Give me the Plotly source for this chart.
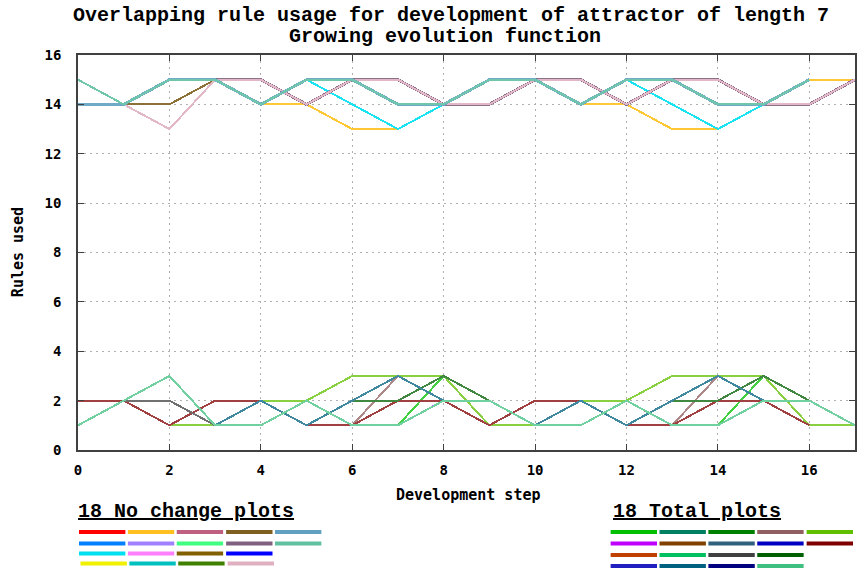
import plotly.graph_objects as go

# ── Data ─────────────────────────────────────────────────────────────────────

steps = list(range(18))
tick_steps = list(range(0, 17, 2))
tick_rules = list(range(0, 17, 2))

# distinct rule-count runs ("No change")
nc_p = [15, 14, 15, 15, 14, 15, 15, 14, 14, 15, 15, 14, 15, 15, 14, 14, 15, None]
nc_p0 = [14, 14, 15, 15, 14, 15, 15, 14, 14, 15, 15, 14, 15, 15, 14, 14, 15, None]
nc_q = [14, 14, 14, 15, 15, 14, 15, 15, 14, 14, 15, 15, 14, 15, 15, 14, 14, 15]
nc_m = [14, 14, 15, 15, 15, 14, 15, 15, 14, 14, 15, 15, 14, 15, 15, 14, 14, 15]
nc_sal = [14, 14, 13, 15, 15, 14, 15, 15, 14, 14, 15, 15, 14, 15, 15, 14, 14, 15]
nc_y = [14, 14, 14, 15, 14, 14, 13, 13, 14, 15, 15, 14, 14, 13, 13, 14, 15, 15]
nc_cy = [14, 14, 15, 15, 14, 15, 14, 13, 14, 15, 15, 14, 15, 14, 13, 14, 14, 15]

nochange_colors = ["#ff0000", "#ffc020", "#c06080", "#806020", "#60a0c0",
                   "#0080ff", "#a080ff", "#40ff80", "#806080", "#60c0a0",
                   "#00e0f0", "#ff80ff", "#806000", "#0000ff",
                   "#f0f000", "#00c0c0", "#408000", "#e0b0c0"]
nochange_runs = [nc_sal, nc_y, nc_q, nc_q, nc_p0, nc_p, nc_q, nc_p, nc_m, nc_p,
                 nc_cy, nc_q, nc_y, nc_p, nc_y, nc_cy, nc_p0, nc_sal]
nochange_draw = [1, 6, 7, 8, 12, 13, 14, 15, 16, 17, 3, 2, 4, 11, 9, 18, 5, 10]

# lower band ("Total")
tot_s1 = [2, 2, 2, 1, 1, 2, 1, 1, 3, 2, 1, 1, 2, 1, 1, 3, 2, 1]
tot_g = [2, 2, 1, 1, 1, 2, 1, 1, 2, 2, 1, 1, 2, 1, 1, 2, 2, 1]
tot_b = [1, 2, 1, 1, 2, 2, 3, 3, 3, 2, 1, 2, 2, 3, 3, 3, 2, 1]
tot_b5 = [1, 2, 1, 1, 2, 2, 3, 3, 3, 1, 1, 2, 2, 3, 3, 3, 1, 1]
tot_c = [2, 2, 2, 1, 1, 2, 1, 3, 3, 1, 1, 1, 2, 1, 3, 3, 1, 1]
tot_v = [2, 2, 2, 1, 1, 2, 1, 1, 2, 1, 2, 2, 1, 1, 2, 2, 1, None]
tot_a0 = [1, 2, 1, 2, 2, 1, 1, 2, 2, 1, 2, 2, 1, 1, 2, 2, 1, None]
tot_t = [1, 2, 3, 1, 2, 1, 2, 3, 2, 2, 1, 2, 1, 2, 3, 2, 2, 1]
tot_l = [1, 2, 3, 1, 1, 2, 1, 1, 2, 2, 1, 1, 2, 1, 1, 2, 2, 1]
tot_a = [2, 2, 1, 2, 2, 1, 1, 2, 2, 1, 2, 2, 1, 1, 2, 2, 1, None]
tot_k = [1, 2, 2, 1, 1, 2, 1, 1, 2, 2, 1, 1, 2, 1, 1, 2, 2, 1]
tot_e = [1, 2, 3, 1, 2, 1, 2, 2, 3, 2, 1, 2, 1, 2, 2, 3, 2, 1]

total_colors = ["#00c000", "#008060", "#008000", "#906060", "#60c000",
                "#c000ff", "#804000", "#306080", "#0000c0", "#800000",
                "#c04000", "#00c060", "#404040", "#006000",
                "#2020c0", "#006080", "#000080", "#40c080"]
total_runs = [tot_s1, tot_g, tot_b, tot_c, tot_b5, tot_v, tot_a0, tot_t, tot_l,
              tot_a, tot_k, tot_k, tot_k, tot_e, tot_l, tot_t, tot_l, tot_l]

# ── Layout helpers (pixels -> paper) ─────────────────────────────────────────

W, H = 868, 570
L, R, T, B = 78, 857, 55, 450


def px(x):
    return (x - L) / (R - L)


def py(y):
    return (B - y) / (B - T)


def tint(c, a):
    # thin lines in the original read lighter than the key colours
    rgb = [int(c[i:i + 2], 16) for i in (1, 3, 5)]
    return "rgb(%d,%d,%d)" % tuple(round(a * v + (1 - a) * 255) for v in rgb)


def slot(i):
    # legend grid: rows of 5, 5, 4, 4
    for row, start in enumerate([0, 5, 10, 14]):
        size = 5 if row < 2 else 4
        if i < start + size:
            return row, i - start


# ── Figure ───────────────────────────────────────────────────────────────────

fig = go.Figure()

for run, col in zip(total_runs, total_colors):
    fig.add_trace(go.Scatter(x=steps, y=run, mode="lines",
                             line=dict(color=tint(col, 0.75), width=2),
                             showlegend=False, hoverinfo="skip"))

wide = {9: 3, 5: 3}  # mauve under pink, steelblue under aquamarine
for k in nochange_draw:
    fig.add_trace(go.Scatter(x=steps, y=nochange_runs[k - 1], mode="lines",
                             line=dict(color=tint(nochange_colors[k - 1], 0.9),
                                       width=wide.get(k, 2)),
                             showlegend=False, hoverinfo="skip"))

tickfont = dict(family="DejaVu Sans Mono", size=14, color="black", weight="bold")
axis_common = dict(showline=True, linecolor="#404040", linewidth=1.5, mirror="allticks",
                   ticks="inside", ticklen=6, tickcolor="#404040", tickwidth=1.2,
                   showgrid=True, gridcolor="#b0b0b0", gridwidth=1, griddash="2px,4px",
                   zeroline=False, tickfont=tickfont)

fig.update_xaxes(range=[0, 17], tickvals=tick_steps, ticklabelstandoff=6, **axis_common)
fig.update_yaxes(range=[0, 16], tickvals=tick_rules, ticklabelstandoff=12, **axis_common)

title_font = dict(family="Liberation Mono", size=20, color="black", weight="bold")
label_font = dict(family="DejaVu Sans Mono", size=15, color="black", weight="bold")
head_font = dict(family="Liberation Mono", size=20, color="black", weight="bold")

annotations = [
    dict(text="Overlapping rule usage for development of attractor of length 7",
         x=px(452), y=py(16), font=title_font),
    dict(text="Growing evolution function", x=px(446), y=py(37), font=title_font),
    dict(text="Development step", x=px(470), y=py(495), font=label_font),
    dict(text="Rules used", x=px(18), y=py(252), textangle=-90, font=label_font),
    dict(text=f"<u>{len(nochange_runs)} No change plots</u>", x=px(76), y=py(511),
         xanchor="left", font=head_font),
    dict(text=f"<u>{len(total_runs)} Total plots</u>", x=px(612), y=py(511),
         xanchor="left", font=head_font),
]
for a in annotations:
    a.setdefault("xanchor", "center")
    a.update(xref="paper", yref="paper", yanchor="middle", showarrow=False)

# legend swatches
shapes = []
nc_cols = [79, 128, 177, 226.5, 275.5]
nc_rows = [532, 543.5, 553.5, 563.5]
tot_cols = [612, 661, 710, 759, 808.5]
tot_rows = [532, 543.5, 555, 566]
for i, col in enumerate(nochange_colors):
    r, c = slot(i)
    x0 = nc_cols[c] + (1.5 if r == 3 else 0)
    shapes.append(dict(type="rect", xref="paper", yref="paper", line_width=0, fillcolor=col,
                       x0=px(x0), x1=px(x0 + 46.5), y0=py(nc_rows[r] - 2), y1=py(nc_rows[r] + 2)))
for i, col in enumerate(total_colors):
    r, c = slot(i)
    x0 = tot_cols[c]
    shapes.append(dict(type="rect", xref="paper", yref="paper", line_width=0, fillcolor=col,
                       x0=px(x0), x1=px(x0 + 46.5), y0=py(tot_rows[r] - 2), y1=py(tot_rows[r] + 2)))

fig.update_layout(width=W, height=H, margin=dict(l=L, r=W - R, t=T, b=H - B),
                  plot_bgcolor="white", paper_bgcolor="white",
                  annotations=annotations, shapes=shapes, showlegend=False)

# no page margin (it would push the chart 8px off) and pixel-crisp data lines,
# so a line drawn on top fully hides the ones it overlaps, as in the original
post = """
document.body.style.margin = '0';
document.querySelectorAll('.scatterlayer path.js-line').forEach(function (p) {
    p.style.shapeRendering = 'crispEdges';
});
"""
fig.write_html("out.html", config={"displayModeBar": False}, post_script=post)
